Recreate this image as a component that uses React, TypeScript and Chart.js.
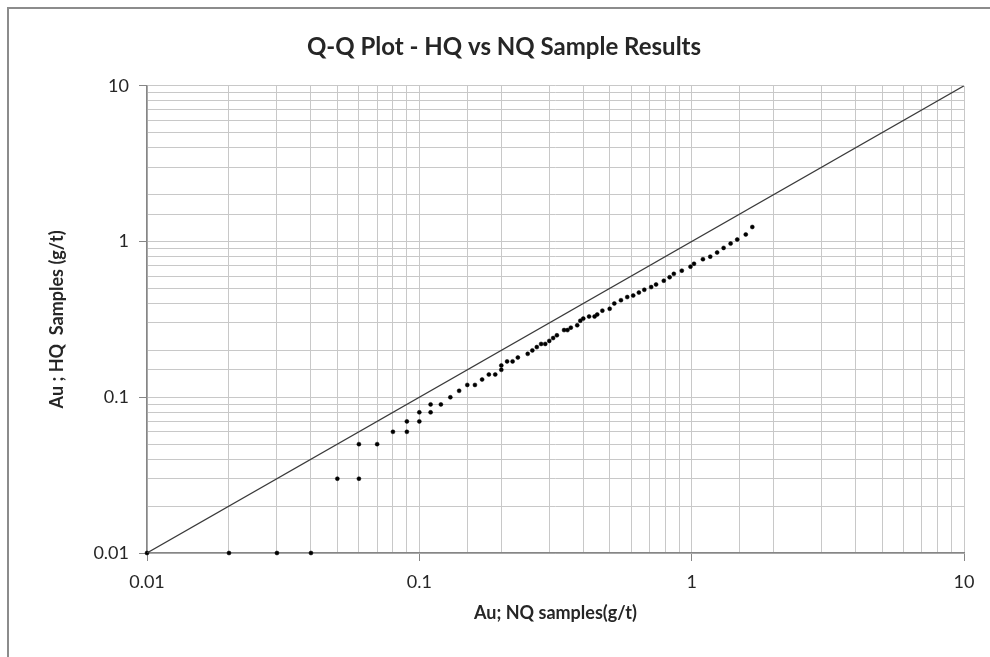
import React, { useEffect, useRef } from "react";
import { Chart, registerables } from "chart.js";

Chart.register(...registerables);

const chartTitle = "Q-Q Plot - HQ vs NQ Sample Results";
const xTitle = "Au; NQ samples(g/t)";
const yTitle = "Au ; HQ  Samples (g/t)";

const tickValues = [0.01, 0.1, 1, 10];
const tickLabels = ["0.01", "0.1", "1", "10"];

const nqValues = [
  0.01, 0.02, 0.03, 0.04, 0.05, 0.06, 0.06, 0.07, 0.08, 0.09, 0.09, 0.10,
  0.10, 0.11, 0.11, 0.12, 0.13, 0.14, 0.15, 0.16, 0.17, 0.18, 0.19, 0.20,
  0.20, 0.21, 0.22, 0.23, 0.25, 0.26, 0.27, 0.28, 0.29, 0.30, 0.31, 0.32,
  0.34, 0.35, 0.36, 0.38, 0.39, 0.40, 0.42, 0.44, 0.45, 0.47, 0.50, 0.52,
  0.55, 0.58, 0.61, 0.64, 0.67, 0.71, 0.74, 0.79, 0.83, 0.86, 0.92, 0.99,
  1.02, 1.10, 1.17, 1.24, 1.31, 1.39, 1.47, 1.58, 1.67,
];
const hqValues = [
  0.01, 0.01, 0.01, 0.01, 0.03, 0.03, 0.05, 0.05, 0.06, 0.06, 0.07, 0.07,
  0.08, 0.08, 0.09, 0.09, 0.10, 0.11, 0.12, 0.12, 0.13, 0.14, 0.14, 0.15,
  0.16, 0.17, 0.17, 0.18, 0.19, 0.20, 0.21, 0.22, 0.22, 0.23, 0.24, 0.25,
  0.27, 0.27, 0.28, 0.29, 0.31, 0.32, 0.33, 0.33, 0.34, 0.36, 0.37, 0.40,
  0.42, 0.44, 0.45, 0.47, 0.49, 0.51, 0.53, 0.56, 0.59, 0.62, 0.65, 0.69,
  0.72, 0.77, 0.80, 0.85, 0.91, 0.97, 1.03, 1.11, 1.24,
];

const lineX = [0.01, 10];
const lineY = [0.01, 10];

const FONT = "Lato, 'Noto Sans', sans-serif";

function majorLabel(v: number): string {
  for (let i = 0; i < tickValues.length; i++) {
    if (Math.abs(Math.log10(v) - Math.log10(tickValues[i])) < 1e-6) return tickLabels[i];
  }
  return "";
}

export default function App() {
  const ref = useRef<HTMLCanvasElement | null>(null);

  useEffect(() => {
    if (!ref.current) return;
    const gridColor = "#c8c8c8";
    const axisColor = "#868686";
    const tickColor = (ctx: any) =>
      ctx.tick && majorLabel(ctx.tick.value) !== "" ? axisColor : "rgba(0,0,0,0)";

    const chart = new Chart(ref.current, {
      type: "scatter",
      data: {
        datasets: [
          {
            type: "line",
            data: lineX.map((x, i) => ({ x, y: lineY[i] })),
            borderColor: "#3a3a3a",
            borderWidth: 1.2,
            pointRadius: 0,
            fill: false,
          } as any,
          {
            data: nqValues.map((x, i) => ({ x, y: hqValues[i] })),
            backgroundColor: "#000",
            borderColor: "#000",
            borderWidth: 0.5,
            pointRadius: 2,
            clip: false,
          } as any,
        ],
      },
      options: {
        responsive: false,
        animation: false,
        layout: { padding: { left: 44, right: 26, top: 0, bottom: 0 } },
        plugins: {
          legend: { display: false },
          tooltip: { enabled: false },
          title: {
            display: true,
            text: chartTitle,
            color: "#262626",
            font: { family: FONT, size: 24, weight: "bold" },
            padding: { top: 33, bottom: 24 },
          },
        },
        scales: {
          x: {
            type: "logarithmic",
            min: 0.01,
            max: 10,
            afterFit: (s: any) => {
              s.height = 104;
            },
            border: { color: axisColor, width: 1.5 },
            grid: { color: gridColor, lineWidth: 1, tickLength: 8, tickColor },
            ticks: {
              autoSkip: false,
              maxRotation: 0,
              padding: 10,
              color: "#262626",
              font: { family: FONT, size: 18 },
              callback: (v: any) => majorLabel(Number(v)),
            },
            title: {
              display: true,
              text: xTitle,
              color: "#262626",
              font: { family: FONT, size: 18, weight: "bold" },
              padding: { top: 0, bottom: 33 },
            },
          },
          y: {
            type: "logarithmic",
            min: 0.01,
            max: 10,
            afterFit: (s: any) => {
              s.width = 103;
            },
            border: { color: axisColor, width: 1.5 },
            grid: { color: gridColor, lineWidth: 1, tickLength: 8, tickColor },
            ticks: {
              autoSkip: false,
              padding: 10,
              color: "#262626",
              font: { family: FONT, size: 18 },
              callback: (v: any) => majorLabel(Number(v)),
            },
            title: {
              display: true,
              text: yTitle,
              color: "#262626",
              font: { family: FONT, size: 18, weight: "bold" },
              padding: { top: 2, bottom: 0 },
            },
          },
        },
      } as any,
    });
    return () => chart.destroy();
  }, []);

  return (
    <div
      style={{
        position: "fixed",
        left: 0,
        top: 0,
        width: 990,
        height: 657,
        overflow: "hidden",
        background: "#fff",
      }}
    >
      <div
        style={{
          position: "absolute",
          left: 7,
          top: 7,
          width: 1200,
          height: 900,
          borderLeft: "2px solid #8c8c8c",
          borderTop: "2px solid #8c8c8c",
        }}
      />
      <canvas
        ref={ref}
        width={990}
        height={657}
        style={{ position: "absolute", left: 0, top: 0, width: 990, height: 657 }}
      />
    </div>
  );
}
